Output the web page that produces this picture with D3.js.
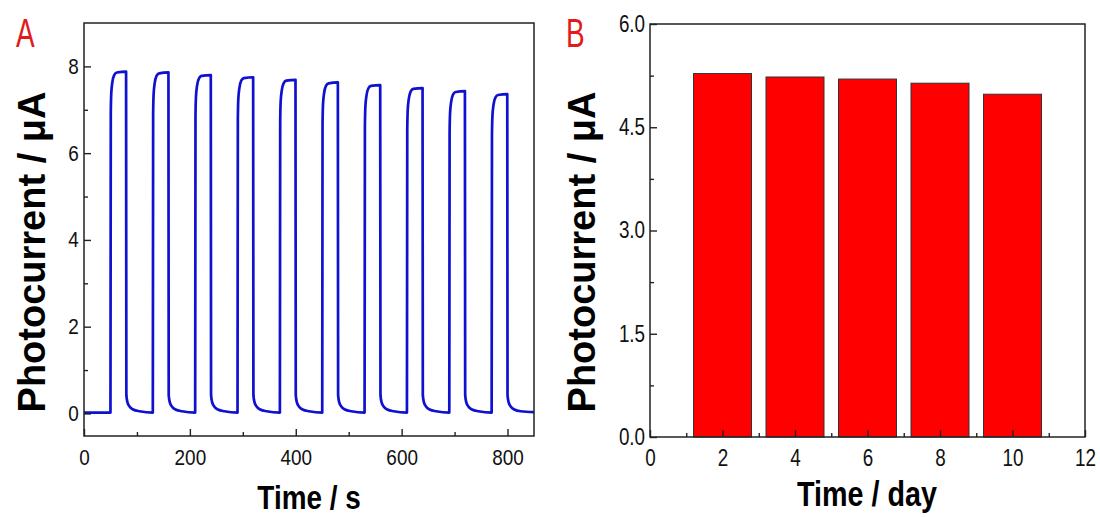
<!DOCTYPE html>
<html>
<head>
<meta charset="utf-8">
<script src="https://cdn.jsdelivr.net/npm/d3@7"></script>
<style>
  body { margin: 0; background: #fff; }
  svg { display: block; font-family: Arial, "Liberation Sans", sans-serif; }
</style>
</head>
<body>
<div id="svgs"></div>
<script>
// panel A: photocurrent trace, [time s, current uA]
var traceA = [
  [0, 0.02], [50, 0.02],
  [50.6, 6.93], [51.5, 7.38], [53.5, 7.63], [57, 7.8], [62, 7.86], [79.5, 7.88],
  [80, 0.42], [82, 0.26], [86, 0.16], [93, 0.09], [105, 0.05], [130, 0.02],
  [130.6, 6.91], [131.5, 7.36], [133.5, 7.61], [137, 7.78], [142, 7.84], [159.5, 7.86],
  [160, 0.42], [162, 0.26], [166, 0.16], [173, 0.09], [185, 0.05], [210, 0.02],
  [210.6, 6.85], [211.5, 7.3], [213.5, 7.55], [217, 7.72], [222, 7.78], [239.5, 7.8],
  [240, 0.42], [242, 0.26], [246, 0.16], [253, 0.09], [265, 0.05], [290, 0.02],
  [290.6, 6.8], [291.5, 7.25], [293.5, 7.5], [297, 7.67], [302, 7.73], [319.5, 7.75],
  [320, 0.42], [322, 0.26], [326, 0.16], [333, 0.09], [345, 0.05], [370, 0.02],
  [370.6, 6.74], [371.5, 7.19], [373.5, 7.44], [377, 7.61], [382, 7.67], [399.5, 7.69],
  [400, 0.42], [402, 0.26], [406, 0.16], [413, 0.09], [425, 0.05], [450, 0.02],
  [450.6, 6.68], [451.5, 7.13], [453.5, 7.38], [457, 7.55], [462, 7.61], [479.5, 7.63],
  [480, 0.42], [482, 0.26], [486, 0.16], [493, 0.09], [505, 0.05], [530, 0.02],
  [530.6, 6.62], [531.5, 7.07], [533.5, 7.32], [537, 7.49], [542, 7.55], [559.5, 7.57],
  [560, 0.42], [562, 0.26], [566, 0.16], [573, 0.09], [585, 0.05], [610, 0.02],
  [610.6, 6.55], [611.5, 7.0], [613.5, 7.25], [617, 7.42], [622, 7.48], [639.5, 7.5],
  [640, 0.42], [642, 0.26], [646, 0.16], [653, 0.09], [665, 0.05], [690, 0.02],
  [690.6, 6.48], [691.5, 6.93], [693.5, 7.18], [697, 7.35], [702, 7.41], [719.5, 7.43],
  [720, 0.42], [722, 0.26], [726, 0.16], [733, 0.09], [745, 0.05], [770, 0.02],
  [770.6, 6.41], [771.5, 6.86], [773.5, 7.11], [777, 7.28], [782, 7.34], [799.5, 7.36],
  [800, 0.42], [802, 0.26], [806, 0.16], [813, 0.09], [825, 0.05], [850, 0.03]
];
var xTicksA = [0, 200, 400, 600, 800];
var xMinorA = [100, 300, 500, 700];
var yTicksA = [0, 2, 4, 6, 8];
var yMinorA = [1, 3, 5, 7];

// panel B: bars
var daysB = [2, 4, 6, 8, 10];
var currentB = [5.28, 5.23, 5.2, 5.14, 4.98];
var xTicksB = [0, 2, 4, 6, 8, 10, 12];
var xMinorB = [1, 3, 5, 7, 9, 11];
var yTicksB = [0, 1.5, 3, 4.5, 6];
var yMinorB = [0.75, 2.25, 3.75, 5.25];

var svg = d3.select("#svgs").append("svg")
  .attr("width", 1100)
  .attr("height", 517);

function drawAxes(x, y, xMaj, xMin, yMaj, yMin, yFmt, fs, sx) {
  var g = svg.append("g");
  var bottom = y.range()[0], left = x.range()[0];
  g.append("g").attr("transform", "translate(0," + bottom + ")")
    .call(d3.axisBottom(x).tickValues(xMaj).tickSize(-7).tickSizeOuter(0).tickPadding(13));
  g.append("g").attr("transform", "translate(0," + bottom + ")")
    .call(d3.axisBottom(x).tickValues(xMin).tickSize(-4).tickSizeOuter(0).tickFormat(""));
  g.append("g").attr("transform", "translate(" + left + ",0)")
    .call(d3.axisLeft(y).tickValues(yMaj).tickSize(-7).tickSizeOuter(0).tickPadding(6).tickFormat(yFmt));
  g.append("g").attr("transform", "translate(" + left + ",0)")
    .call(d3.axisLeft(y).tickValues(yMin).tickSize(-4).tickSizeOuter(0).tickFormat(""));
  g.selectAll(".domain").remove();
  g.selectAll(".tick line").attr("stroke", "#222").attr("stroke-width", 1.4);
  g.selectAll(".tick text")
    .attr("font-size", fs)
    .attr("fill", "#111")
    .attr("transform", "scale(" + sx + ",1)");
  // frame
  g.append("rect")
    .attr("x", left).attr("y", y.range()[1])
    .attr("width", x.range()[1] - left)
    .attr("height", bottom - y.range()[1])
    .attr("fill", "none").attr("stroke", "#222").attr("stroke-width", 1.5);
}

function label(txt, tx, ty, opts) {
  svg.append("text")
    .attr("transform", "translate(" + tx + "," + ty + ")" + opts.tr)
    .attr("text-anchor", opts.anchor || "middle")
    .attr("font-size", opts.size)
    .attr("font-weight", opts.weight || "bold")
    .attr("fill", opts.color || "#000")
    .text(txt);
}

// ---- panel A
var xA = d3.scaleLinear().domain([0, 850]).range([84, 534]);
var yA = d3.scaleLinear().domain([-0.52, 9]).range([436, 23]);

svg.append("path")
  .datum(traceA)
  .attr("fill", "none")
  .attr("stroke", "#1010d0")
  .attr("stroke-width", 2.7)
  .attr("stroke-linejoin", "round")
  .attr("d", d3.line().x(function (d) { return xA(d[0]); })
    .y(function (d) { return yA(d[1]); })
    .curve(d3.curveMonotoneX));

drawAxes(xA, yA, xTicksA, xMinorA, yTicksA, yMinorA, d3.format("d"), 22, 0.86);

// ---- panel B
var xB = d3.scaleLinear().domain([0, 12]).range([650, 1085]);
var yB = d3.scaleLinear().domain([0, 6]).range([437, 24]);

svg.append("g").selectAll("rect")
  .data(daysB)
  .enter().append("rect")
  .attr("x", function (d) { return xB(d - 0.8); })
  .attr("width", function (d) { return xB(d + 0.8) - xB(d - 0.8); })
  .attr("y", function (d, i) { return yB(currentB[i]); })
  .attr("height", function (d, i) { return yB(0) - yB(currentB[i]); })
  .attr("fill", "#ff0000")
  .attr("stroke", "#333")
  .attr("stroke-width", 1);

drawAxes(xB, yB, xTicksB, xMinorB, yTicksB, yMinorB, d3.format(".1f"), 23, 0.82);

// titles
label("Photocurrent / \u03bcA", 45, 252, { tr: " rotate(-90)", size: 38 });
label("Photocurrent / \u03bcA", 595, 252, { tr: " rotate(-90)", size: 38 });
label("Time / s", 309, 509, { tr: " scale(0.82,1)", size: 34 });
label("Time / day", 867, 506, { tr: " scale(0.82,1)", size: 35 });
label("A", 16, 47, { tr: " scale(0.7,1)", size: 40, weight: "normal", color: "#e31a1c", anchor: "start" });
label("B", 566, 47, { tr: " scale(0.7,1)", size: 40, weight: "normal", color: "#e31a1c", anchor: "start" });
</script>
</body>
</html>
